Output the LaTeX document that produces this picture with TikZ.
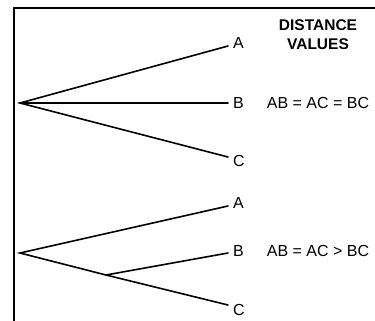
\documentclass[tikz,border=0pt]{standalone}
\usepackage{fontspec}
\setmainfont{Liberation Sans}
\usetikzlibrary{positioning}

\begin{document}
\begin{tikzpicture}[x=1pt,y=-1pt,
  every node/.style={font=\fontsize{16}{19}\selectfont,inner sep=0pt},
  leaf/.style={anchor=west,xshift=5pt},
  branch/.style={line width=1.6pt,line cap=round},
  frame/.style={line width=1.3pt}]
\useasboundingbox (0,0) rectangle (375,321);
% frame
\coordinate (ftop) at (375,8); \coordinate (fcorner) at (14,8); \coordinate (fbot) at (14,321);
\draw[frame] (ftop) -- (fcorner) -- (fbot);
% heading
\node[font=\fontsize{15.5}{19}\selectfont\bfseries,align=center] (head) at (318,35) {DISTANCE\\VALUES};
% tree 1: star
\coordinate (root1) at (20,103);
\coordinate (a1) at (228,46); \coordinate (b1) at (228,103); \coordinate (c1) at (228,157);
\node[leaf] (A1) at (228,43) {A};
\node[leaf] (B1) at (228,103) {B};
\node[leaf] (C1) at (228,161) {C};
\draw[branch] (a1) -- (root1) -- (c1); \draw[branch] (root1) -- (b1);
\node (dist1) at (318,103) {AB = AC = BC};
% tree 2: BC joined
\coordinate (root2) at (20,253); \coordinate (split) at (106,275);
\coordinate (a2) at (228,206); \coordinate (b2) at (228,253); \coordinate (c2) at (228,305);
\node[leaf] (A2) at (228,203) {A};
\node[leaf] (B2) at (228,251) {B};
\node[leaf] (C2) at (228,310) {C};
\draw[branch] (a2) -- (root2) -- (split) -- (c2); \draw[branch] (split) -- (b2);
\node (dist2) at (318,251) {AB = AC > BC};
\end{tikzpicture}
\end{document}
